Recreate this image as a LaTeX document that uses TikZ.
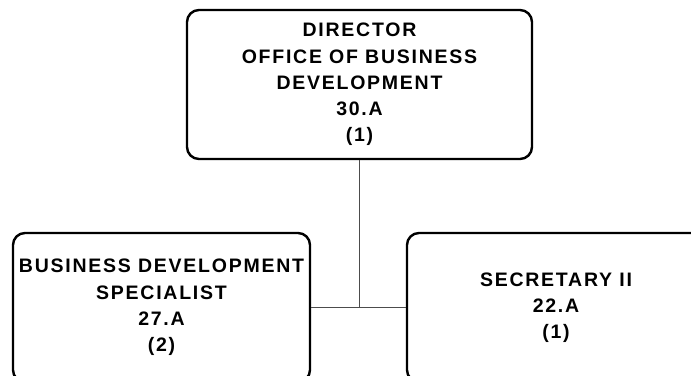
\documentclass[tikz,border=0pt]{standalone}
\usepackage{fontspec}
\newfontfamily\chartfont{Liberation Sans}[LetterSpace=9]
\usetikzlibrary{positioning}

\begin{document}
\begin{tikzpicture}[x=1pt, y=-1pt]
    		\tikzstyle{postbox} = [rectangle, draw, line width=2.4pt, rounded corners=12pt, minimum height=149pt, text centered, align=center, font=\chartfont\bfseries\fontsize{19.5}{26.2}\selectfont, fill=white]
    		\tikzstyle{orgline} = [draw=black!70, line width=1.3pt]
    		\useasboundingbox (0,0) rectangle (691,375);
    		\clip (0,0) rectangle (691,375);
    		\node[postbox, minimum width=345pt] (D) at (359.5,84.5) {DIRECTOR\\OFFICE OF BUSINESS\\DEVELOPMENT\\30.A\\(1)};
    		\node[postbox, minimum width=297pt] (B) at (161.5,307.5) {BUSINESS DEVELOPMENT\\SPECIALIST\\27.A\\(2)};
    		\node[postbox, minimum width=298pt] (S) at (556,307.5) {SECRETARY II\\22.A\\(1)};
    		\coordinate (J) at (D.south |- B.east);
    		\draw[orgline] (D) -- (J);
    		\draw[orgline] (B) -- (S);
		\end{tikzpicture}
\end{document}
